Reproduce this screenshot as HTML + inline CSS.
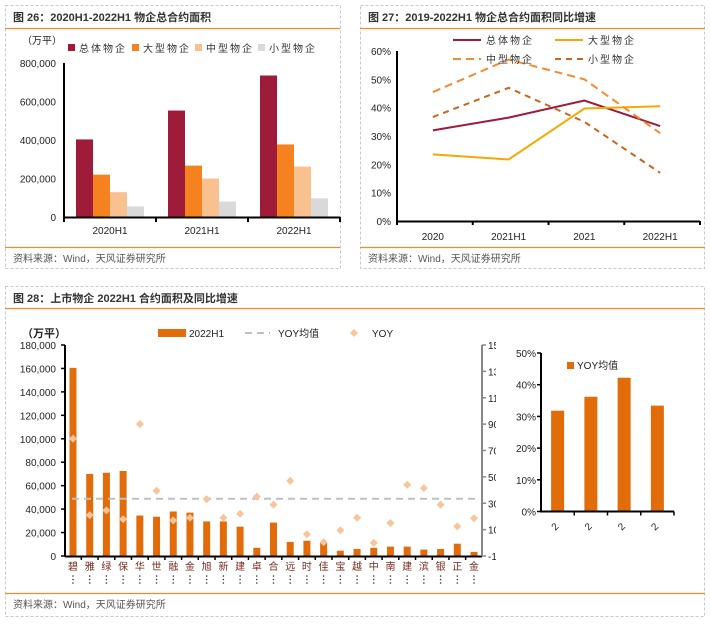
<!DOCTYPE html>
<html><head><meta charset="utf-8"><style>
body{margin:0;background:#fff;width:710px;height:622px;overflow:hidden;font-family:"Liberation Sans","Noto Sans CJK SC",sans-serif}
svg text{font-family:"Liberation Sans","Noto Sans CJK SC",sans-serif}
</style></head><body>
<svg id="s" width="710" height="622" xmlns="http://www.w3.org/2000/svg">
<g fill="none" stroke="#c8c8c8" stroke-dasharray="3,2">
<rect x="5.5" y="5.5" width="335" height="263"/>
<rect x="360.5" y="5.5" width="344" height="263"/>
<rect x="5.5" y="286.5" width="699" height="330"/>
</g>
<g font-size="11" font-weight="bold" fill="#333">
<text x="13" y="21">图 26：2020H1-2022H1 物企总合约面积</text>
<text x="368" y="21">图 27：2019-2022H1 物企总合约面积同比增速</text>
<text x="13" y="302">图 28：上市物企 2022H1 合约面积及同比增速</text>
</g>
<g stroke="#f08a2c" stroke-width="1.2">
<line x1="5" y1="28.5" x2="340" y2="28.5"/><line x1="360" y1="28.5" x2="705" y2="28.5"/>
<line x1="5" y1="247.5" x2="340" y2="247.5"/><line x1="360" y1="247.5" x2="705" y2="247.5"/>
<line x1="5" y1="308.5" x2="705" y2="308.5"/><line x1="5" y1="593.5" x2="705" y2="593.5"/>
</g>
<g font-size="10" fill="#555">
<text x="13" y="262">资料来源：Wind，天风证券研究所</text>
<text x="368" y="262">资料来源：Wind，天风证券研究所</text>
<text x="13" y="608">资料来源：Wind，天风证券研究所</text>
</g>
<g id="c1"></g>
<g id="c2"></g>
<g id="c3"></g>
<g id="c4"></g>
</svg>
<script>
const c1Cats=["2020H1","2021H1","2022H1"];
const c1Total=[403000,553000,735000];
const c1Large=[220000,267000,377000];
const c1Mid=[129000,200000,262000];
const c1Small=[55000,80000,97000];
const c1Ticks=[0,200000,400000,600000,800000];

const c2Cats=["2020","2021H1","2021","2022H1"];
const c2Total=[32,36.5,42.5,33.5];
const c2Large=[23.5,21.7,39.7,40.5];
const c2Mid=[45.5,57,50,31];
const c2Small=[36.7,47,35,17];
const c2Ticks=[0,10,20,30,40,50,60];

const c3Cats=["碧","雅","绿","保","华","世","融","金","旭","新","建","卓","合","远","时","佳","宝","越","中","南","建","滨","银","正","金"];
const c3Area=[160500,70000,71000,72500,34500,33500,38000,37000,29500,29500,25000,7000,28500,12000,13000,11500,4500,6000,7000,8000,8000,5500,6000,10500,3500];
const c3Yoy=[79,21,24.6,18,90,39.5,17,19,33,19,22,35,29,47,6.5,0.4,9.5,19,0,15,44,41.5,29,12.5,18.6];
const c3Mean=33.4;
const c3LeftTicks=[0,20000,40000,60000,80000,100000,120000,140000,160000,180000];
const c3RightTicks=[-10,10,30,50,70,90,110,130,150];

const c4Cats=["2","2","2","2"];
const c4Vals=[31.8,36.2,42.2,33.4];
const c4Ticks=[0,10,20,30,40,50];

const NS="http://www.w3.org/2000/svg";
function mk(p,t,a,txt){const e=document.createElementNS(NS,t);for(const k in a)e.setAttribute(k,a[k]);if(txt!==undefined)e.textContent=txt;p.appendChild(e);return e;}
const fmt=v=>v.toLocaleString("en-US");

// Chart 1
(function(){
const g=document.getElementById('c1');
const y=v=>217-v/800000*154, x0=64,x1=340,bw=(x1-x0)/c1Cats.length;
c1Ticks.forEach(t=>{const e=mk(g,'text',{x:56,y:y(t)+4,'font-size':10,'text-anchor':'end',fill:'#222'},fmt(t));

});
const series=[c1Total,c1Large,c1Mid,c1Small],cols=['#9e1b3a','#f5821f','#f9c090','#d9d9d9'];
c1Cats.forEach((c,i)=>{const cx=x0+bw*(i+0.5);
series.forEach((s,j)=>{const r=mk(g,'rect',{x:cx-34+j*17,y:y(s[i]),width:17,height:217-y(s[i]),fill:cols[j]});

});
const t=mk(g,'text',{x:cx,y:234,'font-size':10,'text-anchor':'middle',fill:'#222'},c);

});
mk(g,'line',{x1:x0,y1:63,x2:x0,y2:218,stroke:'#000','stroke-width':2});
mk(g,'line',{x1:x0,y1:217.5,x2:x1,y2:217.5,stroke:'#000','stroke-width':2});
for(let i=0;i<=3;i++)mk(g,'line',{x1:x0+bw*i,y1:217,x2:x0+bw*i,y2:222,stroke:'#000','stroke-width':2});
mk(g,'text',{x:22,y:44,'font-size':10,fill:'#222'},'（万平）');
const names=['总体物企','大型物企','中型物企','小型物企'],lx=[68,132,195,258];
names.forEach((n,j)=>{const r=mk(g,'rect',{x:lx[j],y:44,width:7,height:7,fill:cols[j]});


mk(g,'text',{x:lx[j]+11,y:52,'font-size':10,fill:'#333','letter-spacing':2},n);});
})();

// Chart 2
(function(){
const g=document.getElementById('c2');
const y=v=>221-v/60*170, x0=397,x1=700,bw=(x1-x0)/4;
c2Ticks.forEach(t=>{const e=mk(g,'text',{x:391,y:y(t)+4,'font-size':10,'text-anchor':'end',fill:'#222'},t+'%');

});
c2Cats.forEach((c,i)=>{const e=mk(g,'text',{x:x0+bw*(i+0.5)-2,y:240,'font-size':10,'text-anchor':'middle',fill:'#222'},c);

});
const S=[[c2Total,'#9e1b3a',''],[c2Large,'#f5a800',''],[c2Mid,'#f58a30','8,5'],[c2Small,'#c8651e','6,5']];
S.forEach((s,j)=>{const pts=s[0].map((v,i)=>(x0+bw*(i+0.5)-2)+','+y(v)).join(' ');
const p=mk(g,'polyline',{points:pts,fill:'none',stroke:s[1],'stroke-width':2,'stroke-dasharray':s[2]});

});
mk(g,'line',{x1:x0,y1:51,x2:x0,y2:222,stroke:'#000','stroke-width':2});
mk(g,'line',{x1:x0,y1:221.5,x2:x1,y2:221.5,stroke:'#000','stroke-width':2});
for(let i=0;i<=4;i++)mk(g,'line',{x1:x0+bw*i,y1:221,x2:x0+bw*i,y2:225,stroke:'#000','stroke-width':2});
const L=[[453,40,0,'总体物企'],[555,40,1,'大型物企'],[453,59,2,'中型物企'],[555,59,3,'小型物企']];
L.forEach(l=>{const s=S[l[2]];const e=mk(g,'line',{x1:l[0],y1:l[1],x2:l[0]+28,y2:l[1],stroke:s[1],'stroke-width':2,'stroke-dasharray':s[2]});


mk(g,'text',{x:l[0]+33,y:l[1]+4,'font-size':10,fill:'#333','letter-spacing':2},l[3]);});
})();

// Chart 3
(function(){
const g=document.getElementById('c3');
const x0=65,xr=482,yb=556,yt=345;
const yl=v=>yb-v/180000*(yb-yt), yr=v=>yb-(v+10)/160*(yb-yt);
const step=(474-73)/24, cx=i=>73+i*step;
c3LeftTicks.forEach(t=>{const e=mk(g,'text',{x:56,y:yl(t)+4,'font-size':10,'text-anchor':'end',fill:'#222'},fmt(t));


mk(g,'line',{x1:x0-4,y1:yl(t),x2:x0,y2:yl(t),stroke:'#000','stroke-width':1.5});});
const clip=mk(g,'clipPath',{id:'rc'});mk(clip,'rect',{x:483,y:330,width:13,height:240});
const rg=mk(g,'g',{'clip-path':'url(#rc)'});
c3RightTicks.forEach(t=>{const e=mk(rg,'text',{x:488,y:yr(t)+4,'font-size':10,fill:'#222'},t);


mk(g,'line',{x1:xr,y1:yr(t),x2:xr+4,y2:yr(t),stroke:'#888','stroke-width':1.5});});
c3Cats.forEach((c,i)=>{const r=mk(g,'rect',{x:cx(i)-3.5,y:yl(c3Area[i]),width:7,height:yb-yl(c3Area[i]),fill:'#e36c0a'});


const t=mk(g,'text',{x:cx(i),y:570,'font-size':10,'text-anchor':'middle',fill:'#7a2a1a'},c);


for(let k=0;k<3;k++)mk(g,'circle',{cx:cx(i),cy:576+k*3.5,r:0.8,fill:'#333'});
if(i>0)mk(g,'line',{x1:cx(i)-step/2,y1:yb,x2:cx(i)-step/2,y2:yb+4,stroke:'#000','stroke-width':1.5});});
mk(g,'line',{x1:72,y1:yr(c3Mean),x2:476,y2:yr(c3Mean),stroke:'#c0c0c0','stroke-width':2,'stroke-dasharray':'7,5'});
c3Yoy.forEach((v,i)=>{const d=mk(g,'path',{d:`M${cx(i)},${yr(v)-4}l4,4l-4,4l-4,-4z`,fill:'#f9c49a'});

});
mk(g,'line',{x1:x0,y1:yt,x2:x0,y2:yb+1,stroke:'#000','stroke-width':2});
mk(g,'line',{x1:x0,y1:yb+0.5,x2:xr,y2:yb+0.5,stroke:'#000','stroke-width':2});
mk(g,'line',{x1:xr,y1:yt,x2:xr,y2:yb,stroke:'#888','stroke-width':2});
mk(g,'text',{x:22,y:337,'font-size':11,'font-weight':'bold',fill:'#222'},'（万平）');
mk(g,'rect',{x:158,y:329,width:28,height:8,fill:'#e36c0a'});
mk(g,'text',{x:189,y:337,'font-size':10,fill:'#222'},'2022H1');
mk(g,'line',{x1:245,y1:333,x2:270,y2:333,stroke:'#c0c0c0','stroke-width':2,'stroke-dasharray':'7,5'});
mk(g,'text',{x:278,y:337,'font-size':10,fill:'#222'},'YOY均值');
mk(g,'path',{d:'M354,329l4,4l-4,4l-4,-4z',fill:'#f9c49a'});
mk(g,'text',{x:372,y:337,'font-size':10,fill:'#222'},'YOY');
})();

// Chart 4
(function(){
const g=document.getElementById('c4');
const x0=541,x1=674,yb=511.5,yt=353,y=v=>yb-v/50*(yb-yt),bw=(x1-x0)/4;
c4Ticks.forEach(t=>{const e=mk(g,'text',{x:536,y:y(t)+4,'font-size':10,'text-anchor':'end',fill:'#222'},t+'%');


mk(g,'line',{x1:x0-4,y1:y(t),x2:x0,y2:y(t),stroke:'#000','stroke-width':1.5});});
c4Vals.forEach((v,i)=>{const cx=x0+bw*(i+0.5);
const r=mk(g,'rect',{x:cx-6.5,y:y(v),width:13,height:yb-y(v),fill:'#e36c0a'});


mk(g,'text',{x:cx-6,y:530,'font-size':10,fill:'#222',transform:`rotate(-45 ${cx-3} 526)`},c4Cats[i]);
mk(g,'line',{x1:x0+bw*(i+1),y1:yb,x2:x0+bw*(i+1),y2:yb+4,stroke:'#000','stroke-width':1.5});});
mk(g,'line',{x1:x0,y1:yt,x2:x0,y2:yb+1,stroke:'#000','stroke-width':2});
mk(g,'line',{x1:x0,y1:yb,x2:x1,y2:yb,stroke:'#000','stroke-width':2});
mk(g,'rect',{x:567,y:362,width:7,height:7,fill:'#e36c0a'});
mk(g,'text',{x:577,y:369,'font-size':10,fill:'#222'},'YOY均值');
})();
</script>
</body></html>
